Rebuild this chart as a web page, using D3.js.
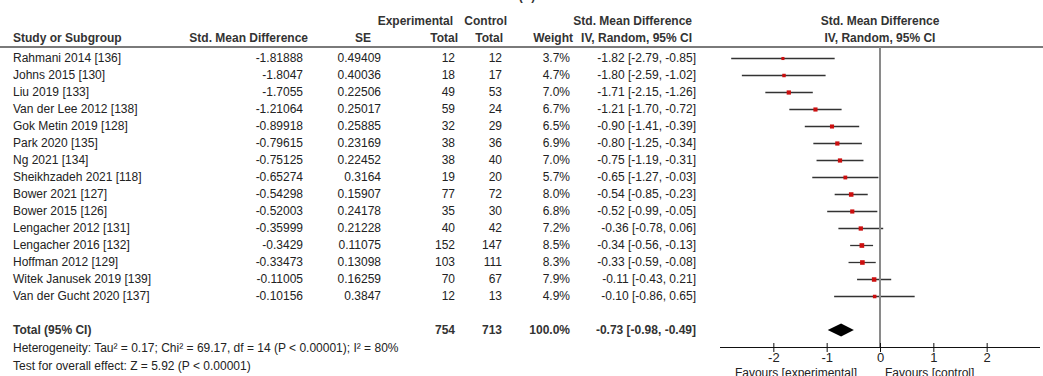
<!DOCTYPE html>
<html>
<head>
<meta charset="utf-8">
<script src="https://cdn.jsdelivr.net/npm/d3@7"></script>
<style>
    body { margin: 0; background: white; }
    svg { display: block; font-family: 'Liberation Sans', Arial, sans-serif; }
    .cell { font-size: 12px; fill: #222; }
    .head { font-size: 12px; font-weight: bold; fill: #333; }
</style>
</head>
<body>
<div id="forest"></div>
<script>

var studies = ['Rahmani 2014 [136]', 'Johns 2015 [130]', 'Liu 2019 [133]', 'Van der Lee 2012 [138]',
    'Gok Metin 2019 [128]', 'Park 2020 [135]', 'Ng 2021 [134]', 'Sheikhzadeh 2021 [118]',
    'Bower 2021 [127]', 'Bower 2015 [126]', 'Lengacher 2012 [131]', 'Lengacher 2016 [132]',
    'Hoffman 2012 [129]', 'Witek Janusek 2019 [139]', 'Van der Gucht 2020 [137]'];
var smd = [-1.81888, -1.8047, -1.7055, -1.21064, -0.89918, -0.79615, -0.75125, -0.65274,
    -0.54298, -0.52003, -0.35999, -0.3429, -0.33473, -0.11005, -0.10156];
var se = [0.49409, 0.40036, 0.22506, 0.25017, 0.25885, 0.23169, 0.22452, 0.3164,
    0.15907, 0.24178, 0.21228, 0.11075, 0.13098, 0.16259, 0.3847];
var expTotal = [12, 18, 49, 59, 32, 38, 38, 19, 77, 35, 40, 152, 103, 70, 12];
var ctrlTotal = [12, 17, 53, 24, 29, 36, 40, 20, 72, 30, 42, 147, 111, 67, 13];
var weight = [3.7, 4.7, 7.0, 6.7, 6.5, 6.9, 7.0, 5.7, 8.0, 6.8, 7.2, 8.5, 8.3, 7.9, 4.9];
var est = [-1.82, -1.80, -1.71, -1.21, -0.90, -0.80, -0.75, -0.65, -0.54, -0.52, -0.36, -0.34, -0.33, -0.11, -0.10];
var ciLow = [-2.79, -2.59, -2.15, -1.70, -1.41, -1.25, -1.19, -1.27, -0.85, -0.99, -0.78, -0.56, -0.59, -0.43, -0.86];
var ciHigh = [-0.85, -1.02, -1.26, -0.72, -0.39, -0.34, -0.31, -0.03, -0.23, -0.05, 0.06, -0.13, -0.08, 0.21, 0.65];

var total = { exp: 754, ctrl: 713, weight: 100.0, est: -0.73, lo: -0.98, hi: -0.49 };
var axisTicks = [-2, -1, 0, 1, 2];
var heteroText = 'Heterogeneity: Tau\u00b2 = 0.17; Chi\u00b2 = 69.17, df = 14 (P < 0.00001); I\u00b2 = 80%';
var effectText = 'Test for overall effect: Z = 5.92 (P < 0.00001)';

var width = 1043;
var height = 376;
var rowTop = 58;
var rowStep = 17;

var svg = d3.select('#forest').append('svg')
    .attr('width', width)
    .attr('height', height);

var data = studies.map((s, i) => ({
    name: s, smd: smd[i], se: se[i], exp: expTotal[i], ctrl: ctrlTotal[i],
    weight: weight[i], est: est[i], lo: ciLow[i], hi: ciHigh[i]
}));

var yScale = d3.scaleLinear().domain([0, 1]).range([rowTop, rowTop + rowStep]);
var xScale = d3.scaleLinear().domain([-3, 3]).range([720, 1040]);
var axisY = 347;

function fmtCI(e, l, h) {
    return `${e.toFixed(2)} [${l.toFixed(2)}, ${h.toFixed(2)}]`;
}

// cut-off label at the very top
svg.append('text').attr('class', 'head').attr('x', 527).attr('y', 0)
    .attr('text-anchor', 'middle').text('(A)');

// header
var heads = [
    { t: 'Experimental', x: 453, y: 25 }, { t: 'Control', x: 507, y: 25 },
    { t: 'Std. Mean Difference', x: 692, y: 25 },
    { t: 'Study or Subgroup', x: 13, y: 42, a: 'start' },
    { t: 'Std. Mean Difference', x: 308, y: 42 }, { t: 'SE', x: 371, y: 42 },
    { t: 'Total', x: 458, y: 42 }, { t: 'Total', x: 503, y: 42 },
    { t: 'Weight', x: 573, y: 42 }, { t: 'IV, Random, 95% CI', x: 692, y: 42 },
    { t: 'Std. Mean Difference', x: xScale(0), y: 25, a: 'middle' },
    { t: 'IV, Random, 95% CI', x: xScale(0), y: 42, a: 'middle' }
];
svg.selectAll('text.hd').data(heads).enter().append('text')
    .attr('class', 'head')
    .attr('x', d => d.x).attr('y', d => d.y)
    .attr('text-anchor', d => d.a || 'end')
    .text(d => d.t);

svg.append('line')
    .attr('x1', 0).attr('x2', width).attr('y1', 47).attr('y2', 47)
    .attr('stroke', '#7a7a7a').attr('stroke-width', 2);

// study rows
var cols = [
    { x: 13, a: 'start', f: d => d.name },
    { x: 303, f: d => String(d.smd) },
    { x: 381, f: d => String(d.se) },
    { x: 455, f: d => d.exp },
    { x: 502, f: d => d.ctrl },
    { x: 570, f: d => d.weight.toFixed(1) + '%' },
    { x: 696, f: d => fmtCI(d.est, d.lo, d.hi) }
];

var rows = svg.selectAll('g.row').data(data).enter().append('g')
    .attr('class', 'row')
    .attr('transform', (d, i) => `translate(0,${yScale(i)})`);

cols.forEach(c => {
    rows.append('text')
        .attr('class', 'cell')
        .attr('x', c.x).attr('y', 4)
        .attr('text-anchor', c.a || 'end')
        .text(c.f);
});

// zero line
svg.append('line')
    .attr('x1', xScale(0)).attr('x2', xScale(0))
    .attr('y1', 47).attr('y2', axisY)
    .attr('stroke', '#8a8a8a').attr('stroke-width', 2);

rows.append('line')
    .attr('x1', d => xScale(d.lo)).attr('x2', d => xScale(d.hi))
    .attr('y1', 0.5).attr('y2', 0.5)
    .attr('stroke', '#333').attr('stroke-width', 1.3);

rows.append('rect')
    .attr('x', d => xScale(d.est) - Math.sqrt(d.weight) * 0.8)
    .attr('y', d => 0.5 - Math.sqrt(d.weight) * 0.8)
    .attr('width', d => Math.sqrt(d.weight) * 1.6)
    .attr('height', d => Math.sqrt(d.weight) * 1.6)
    .attr('fill', '#cc0f0f');

// total row
var ty = yScale(16);
var totalCells = [
    { t: 'Total (95% CI)', x: 13, a: 'start' },
    { t: total.exp, x: 455 },
    { t: total.ctrl, x: 502 },
    { t: total.weight.toFixed(1) + '%', x: 570 },
    { t: fmtCI(total.est, total.lo, total.hi), x: 696 }
];
svg.selectAll('text.tot').data(totalCells).enter().append('text')
    .attr('class', 'head')
    .attr('x', d => d.x).attr('y', ty + 4)
    .attr('text-anchor', d => d.a || 'end')
    .text(d => d.t);

svg.append('path')
    .attr('d', `M${xScale(total.lo)},${ty}L${xScale(total.est)},${ty - 6.5}L${xScale(total.hi)},${ty}L${xScale(total.est)},${ty + 6.5}Z`)
    .attr('fill', 'black');

svg.append('text').attr('class', 'cell').attr('x', 13).attr('y', yScale(17) + 5).text(heteroText);
svg.append('text').attr('class', 'cell').attr('x', 13).attr('y', yScale(18) + 6).text(effectText);

// axis
var xAxis = d3.axisBottom(xScale).tickValues(axisTicks).tickSize(5).tickFormat(d => String(d));
var ax = svg.append('g')
    .attr('transform', `translate(0,${axisY})`)
    .call(xAxis);
ax.select('.domain').attr('d', `M${xScale.range()[0]},0.5H${xScale.range()[1]}`).attr('stroke', '#111');
ax.selectAll('.tick line').attr('y1', -4).attr('y2', 5).attr('stroke', '#111');
ax.selectAll('.tick text')
    .attr('y', 6)
    .attr('font-size', 13)
    .attr('font-family', "'Liberation Sans', Arial, sans-serif")
    .attr('fill', '#222');

svg.append('text').attr('class', 'cell').attr('x', xScale(0) - 23).attr('y', 377)
    .attr('text-anchor', 'end').text('Favours [experimental]');
svg.append('text').attr('class', 'cell').attr('x', xScale(0) + 5).attr('y', 377)
    .text('Favours [control]');

</script>
</body>
</html>
